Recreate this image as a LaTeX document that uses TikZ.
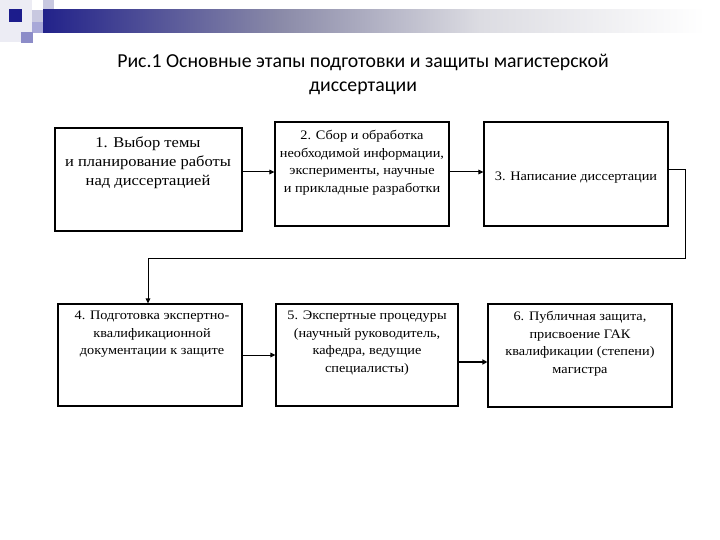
\documentclass[tikz,border=0pt]{standalone}
\usepackage{fontspec}
\setmainfont{Liberation Serif}
\newfontfamily\titlefont{Carlito}
\newfontfamily\boxfont[FakeStretch=1.1]{Liberation Serif}
\usetikzlibrary{arrows.meta}
\definecolor{navyd}{HTML}{1C1C8C}
\definecolor{lavd}{HTML}{8C8CC8}
\definecolor{lavm}{HTML}{A8A8D8}
\definecolor{lavl}{HTML}{C8C8E0}
\definecolor{lavp}{HTML}{ECECF4}
\definecolor{barl}{HTML}{22228A}
\definecolor{barm}{HTML}{8A8AA8}
\definecolor{barp}{HTML}{DCDCE2}
\pgfdeclarehorizontalshading{barshade}{100bp}{color(0bp)=(barl); color(25bp)=(barl); color(42.9bp)=(barm); color(58bp)=(barp); color(75bp)=(white); color(100bp)=(white)}
\tikzset{
  stagebox/.style={draw=black, line width=1.1pt, inner sep=0pt},
  stagetext/.style={inner sep=0pt, align=center, font=\boxfont\fontsize{13}{17.5}\selectfont},
  link/.style={line width=1pt, -{Triangle[length=5pt,width=4.5pt]}},
  thicklink/.style={line width=2pt, -{Triangle[length=5pt,width=5pt]}}
}
\begin{document}
\begin{tikzpicture}[x=1pt,y=-1pt]
\useasboundingbox (0,0) rectangle (720,540);
% decoration
\fill[lavp] (0,0) rectangle (32,42);
\fill[lavl] (43,0) rectangle (54,10);
\shade[shading=barshade] (43,10) rectangle (705,33);
\fill[lavl] (32,10) rectangle (43,22);
\fill[lavm] (32,22) rectangle (43,33);
\fill[navyd] (9,9) rectangle (22,22);
\fill[lavd] (21,32) rectangle (33,43);
% title
\node[align=center, font=\titlefont\fontsize{19.8}{24}\selectfont] (title) at (363,74)
  {Рис.1 Основные этапы подготовки и защиты магистерской\\диссертации};
% boxes
\node[stagebox, minimum width=187pt, minimum height=103pt] (b1) at (148.5,179.5) {};
\node[stagebox, minimum width=174pt, minimum height=104pt] (b2) at (362,174) {};
\node[stagebox, minimum width=184pt, minimum height=104pt] (b3) at (576,174) {};
\node[stagebox, minimum width=184pt, minimum height=102pt] (b4) at (150,355) {};
\node[stagebox, minimum width=182pt, minimum height=102pt] (b5) at (367,355) {};
\node[stagebox, minimum width=184pt, minimum height=103pt] (b6) at (580,355.5) {};
% texts
\node[stagetext, anchor=north, font=\boxfont\fontsize{15}{19}\selectfont] (t1) at (148,137)
  {1. Выбор темы\\и планирование работы\\над диссертацией};
\node[stagetext, anchor=north] (t2) at (362,130)
  {2. Сбор и обработка\\необходимой информации,\\эксперименты, научные\\и прикладные разработки};
\node[stagetext] (t3) at (576,178) {3. Написание диссертации};
\node[stagetext, anchor=north] (t4) at (152,311)
  {4. Подготовка экспертно-\\квалификационной\\документации к защите};
\node[stagetext, anchor=north] (t5) at (367,311)
  {5. Экспертные процедуры\\(научный руководитель,\\кафедра, ведущие\\специалисты)};
\node[stagetext, anchor=north] (t6) at (580,311)
  {6. Публичная защита,\\присвоение ГАК\\квалификации (степени)\\магистра};
% connectors
\coordinate (c1) at (685,170);
\coordinate (c2) at (685,258);
\coordinate (c3) at (148,258);
\draw[link] (b1.east |- 0,172) -- (b2.west |- 0,172);
\draw[link] (b2.east |- 0,172) -- (b3.west |- 0,172);
\draw[link] (b3.east |- c1) -- (c1) -- (c2) -- (c3) -- (b4.north -| c3);
\draw[link] (b4.east |- 0,355) -- (b5.west |- 0,355);
\draw[thicklink] (b5.east |- 0,362) -- (b6.west |- 0,362);
\end{tikzpicture}
\end{document}
